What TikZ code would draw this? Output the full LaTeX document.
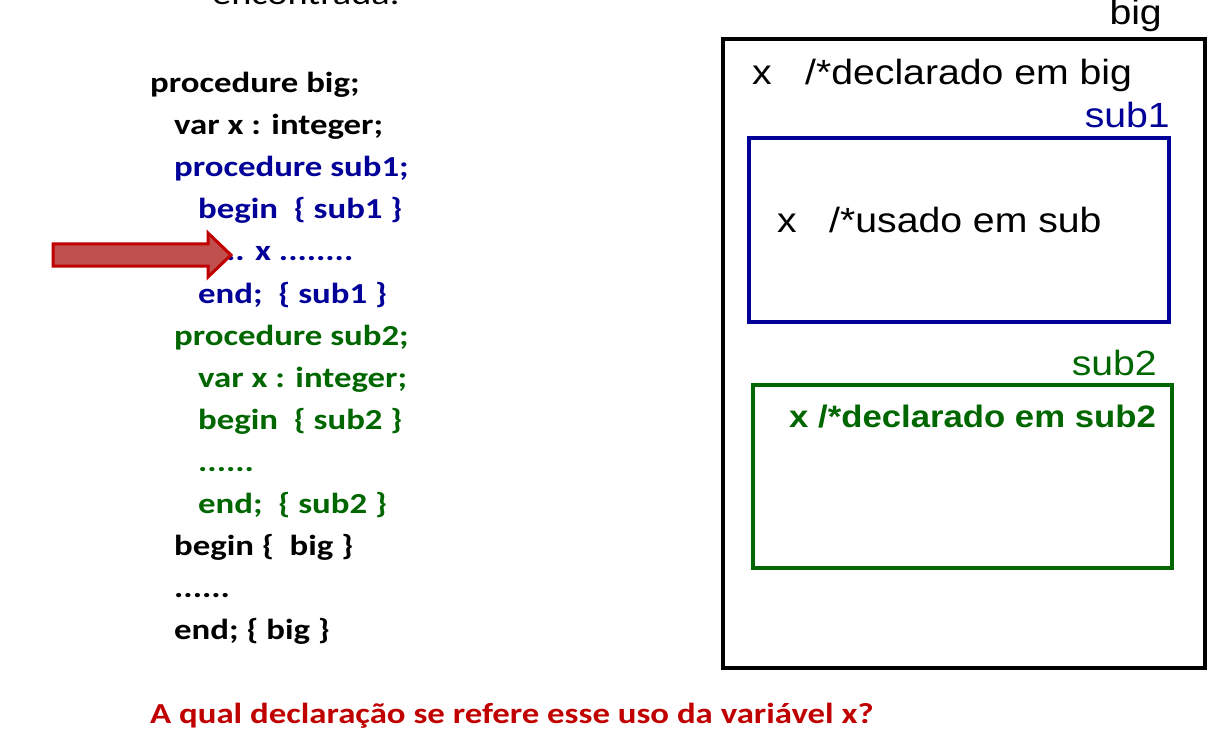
\documentclass[tikz,border=0pt]{standalone}
\usepackage{fontspec}
\setmainfont{Liberation Sans}
\newfontfamily\codefont[FakeStretch=1.2]{Carlito}
\newfontfamily\boxfont[FakeStretch=1.12]{Liberation Sans}
\definecolor{subblue}{HTML}{000099}
\definecolor{subgreen}{HTML}{006600}
\definecolor{askred}{HTML}{C00000}
\definecolor{arrowfill}{HTML}{C0504D}
\tikzset{
  code/.style={anchor=base west, inner sep=0pt, font=\codefont\bfseries\fontsize{29}{29}\selectfont},
  boxtxt/.style={anchor=base west, inner sep=0pt, font=\boxfont\fontsize{35}{35}\selectfont},
  boxlbl/.style={anchor=base east, inner sep=0pt, font=\boxfont\fontsize{35}{35}\selectfont},
}
\begin{document}
\begin{tikzpicture}[x=1pt,y=-1pt]
    \useasboundingbox (0,0) rectangle (1213,730);
    \node[anchor=base west, inner sep=0pt, font=\codefont\fontsize{32}{32}\selectfont] (enc) at (212,5) {encontrada.};
    % codigo
    \node[code] (l1) at (150,93) {procedure big;};
    \node[code] (l2) at (174,135) {var x : integer;};
    \node[code, subblue] (l3) at (174,177) {procedure sub1;};
    \node[code, subblue] (l4) at (198,219) {begin\ \ \{ sub1 \}};
    \node[code, subblue] (l5) at (198,261) {..... x ........};
    \node[code, subblue] (l6) at (198,303) {end;\ \ \{ sub1 \}};
    \node[code, subgreen] (l7) at (174,345) {procedure sub2;};
    \node[code, subgreen] (l8) at (198,387) {var x : integer;};
    \node[code, subgreen] (l9) at (198,429) {begin\ \ \{ sub2 \}};
    \node[code, subgreen] (l10) at (198,471) {......};
    \node[code, subgreen] (l11) at (198,513) {end;\ \ \{ sub2 \}};
    \node[code] (l12) at (174,555) {begin \{\ \ big \}};
    \node[code] (l13) at (174,597) {......};
    \node[code] (l14) at (174,639) {end; \{ big \}};
    % seta
    \draw[askred, line width=3pt, fill=arrowfill, line join=miter]
        (53,244) -- (208,244) -- (208,233) -- (231,255) -- (208,277) -- (208,266) -- (53,266) -- cycle;
    % caixas
    \draw[line width=4pt] (723,39) rectangle (1205,668);
    \node[boxlbl] (big) at (1162,25) {big};
    \node[boxtxt] (xbig) at (752,85) {x};
    \node[boxtxt] (dbig) at (805,85) {/*declarado em big};
    \draw[subblue, line width=3.5pt] (749,138) rectangle (1169,322);
    \node[boxlbl, subblue] (sub1) at (1170,128) {sub1};
    \node[boxtxt] (xsub1) at (777,233) {x};
    \node[boxtxt] (usub1) at (829,233) {/*usado em sub};
    \draw[subgreen, line width=3.5pt] (753,385) rectangle (1172,568);
    \node[boxlbl, subgreen] (sub2) at (1157,375) {sub2};
    \node[boxtxt, subgreen, font=\boxfont\bfseries\fontsize{31}{31}\selectfont] (dsub2) at (789,427) {x /*declarado em sub2};
    % pergunta
    \node[code, askred] (ask) at (150,723) {A qual declaração se refere esse uso da variável x?};
\end{tikzpicture}
\end{document}
